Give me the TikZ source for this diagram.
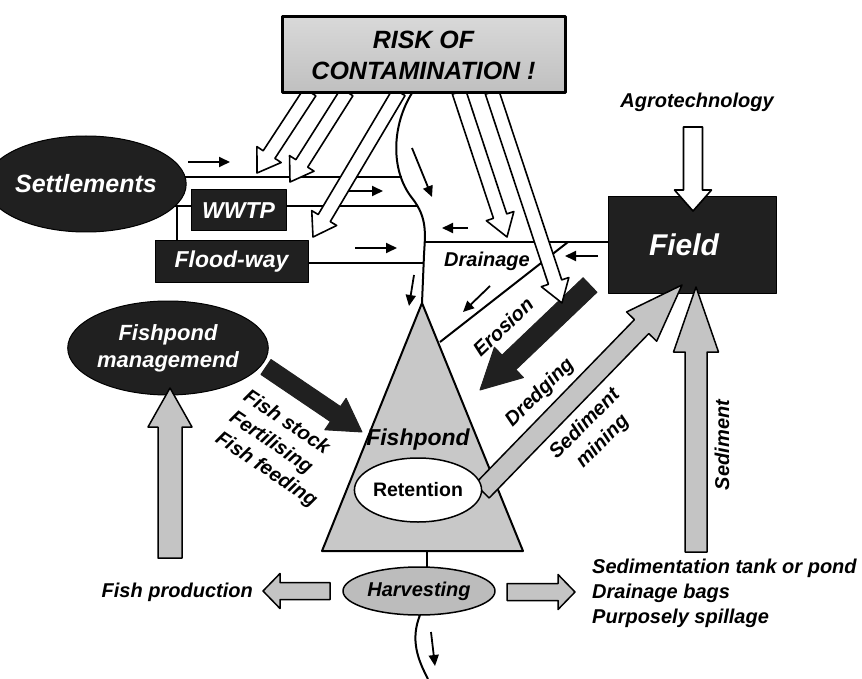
\documentclass[tikz,border=0pt]{standalone}
\usepackage{fontspec}
\setmainfont{Liberation Sans}
\usetikzlibrary{calc,arrows.meta,shapes.geometric}
\definecolor{dark}{HTML}{202020}
\definecolor{pond}{HTML}{C8C8C8}
\definecolor{harv}{HTML}{BCBCBC}
\definecolor{garrow}{HTML}{C4C4C4}
% block arrow: #1 style, #2 from, #3 to, #4 half shaft, #5 half head, #6 head length
\newcommand\blockarr[6]{%
  \path let \p1=($(#3)-(#2)$) in \pgfextra{%
    \pgfmathsetmacro\bkang{atan2(\y1,\x1)}%
    \pgfmathsetmacro\bklen{veclen(\x1,\y1)}%
    \xdef\bkang{\bkang}\xdef\bklen{\bklen}};
  \begin{scope}[shift={(#2)},rotate=\bkang]
    \draw[#1] (0,-#4) -- ({\bklen-#6},-#4) -- ({\bklen-#6},-#5) -- (\bklen,0)
      -- ({\bklen-#6},#5) -- ({\bklen-#6},#4) -- (0,#4) -- cycle;
  \end{scope}}
\begin{document}
\begin{tikzpicture}[x=1pt,y=-1pt,line join=round,
  chan/.style={line width=2pt},
  flow/.style={line width=1.8pt,-{Triangle[length=11pt,width=10pt]}},
  whitearr/.style={fill=white,draw=black,line width=1.6pt},
  blackarr/.style={fill=dark,draw=dark,line width=1pt},
  grayarr/.style={fill=garrow,draw=black,line width=1.5pt},
  darkbox/.style={rectangle,fill=dark,draw=black,line width=1pt,text=white,inner sep=0pt},
  darkell/.style={ellipse,fill=dark,draw=black,line width=1pt,text=white,inner sep=0pt,align=center},
  lbl/.style={font=\fontsize{20}{25}\selectfont\bfseries\itshape,inner sep=0pt},
]
\useasboundingbox (0,0) rectangle (862,679);

% ---- channels
\draw[chan] (160,177) -- (402,177);
\draw[chan] (157,206) -- (418,206);
\draw[chan] (177,206) -- (177,241);
\draw[chan] (308,263) -- (424,263);
\draw[chan] (425,242) -- (608,242);
\draw[chan] (568,242) -- (440,342);
% river
\draw[chan] (412,93) .. controls (392,125) and (390,170) .. (412,198)
  .. controls (428,218) and (425,235) .. (424,255) -- (422,303);

% ---- small flow arrows
\draw[flow] (188,162) -- (230,162);
\draw[flow] (347,191) -- (383,191);
\draw[flow] (355,248) -- (397,248);
\draw[flow] (468,228) -- (442,228);
\draw[flow] (598,256) -- (565,256);
\draw[flow] (490,286) -- (463,312);
\draw[flow] (412,148) -- (432,197);
\draw[flow] (414,275) -- (409,306);

% ---- nodes
\node[darkell,minimum width=160pt,minimum height=96pt,font=\fontsize{25}{30}\selectfont\bfseries\itshape] (settle) at (86,184) {Settlements};
\node[darkbox,minimum width=95pt,minimum height=41pt,font=\fontsize{23}{28}\selectfont\bfseries\itshape] (wwtp) at (238.5,210.5) {WWTP};
\node[darkbox,minimum width=153pt,minimum height=41pt,font=\fontsize{23}{28}\selectfont\bfseries\itshape] (flood) at (231.5,261.5) {Flood-way};
\node[darkbox,minimum width=168pt,minimum height=96pt,font=\fontsize{30}{36}\selectfont\bfseries\itshape] (field) at (692,245) {Field\hspace*{16pt}};
\node[darkell,minimum width=200pt,minimum height=94pt,font=\fontsize{22}{27}\selectfont\bfseries\itshape] (mgmt) at (168,348) {Fishpond\\managemend};

% fishpond triangle
\coordinate (apex) at (422,303);
\coordinate (bl) at (322,551);
\coordinate (br) at (523,551);
\draw[chan,fill=pond] (apex) -- (br) -- (bl) -- cycle;
\node[font=\fontsize{23}{28}\selectfont\bfseries\itshape,inner sep=0pt] (pond) at (418,440) {Fishpond};

% dredging arrow (starts at retention)
\coordinate (dr0) at (482,491);
\coordinate (dr1) at (682,285);
\blockarr{grayarr}{dr0}{dr1}{10}{21}{58}
\node[draw=black,line width=1.5pt,fill=white,ellipse,minimum width=110pt,minimum height=64pt,inner sep=0pt,font=\fontsize{19.5}{24}\selectfont\bfseries] (ret) at (418,490) {Retention};

% harvesting
\draw[chan] (427,551) -- (427,567);
\draw[chan] (420,615) .. controls (410,640) and (418,660) .. (428,679);
\draw[flow] (431,632) -- (435,666);
\node[draw=black,line width=1.5pt,fill=harv,ellipse,minimum width=152pt,minimum height=48pt,inner sep=0pt,font=\fontsize{20}{24}\selectfont\bfseries\itshape] (harv) at (419,591) {Harvesting};

% black arrows
\coordinate (mb0) at (266,367);
\coordinate (mb1) at (362,432);
\blockarr{blackarr}{mb0}{mb1}{9}{19}{32}
\coordinate (er0) at (590,285);
\coordinate (er1) at (480,390);
\blockarr{blackarr}{er0}{er1}{10}{21}{40}

% contamination arrows
\coordinate (cA0) at (310,92); \coordinate (cA1) at (257,173);
\coordinate (cB0) at (347,92); \coordinate (cB1) at (290,182);
\coordinate (cC0) at (399,92); \coordinate (cC1) at (313,237);
\coordinate (cD0) at (459,92); \coordinate (cD1) at (507,237);
\coordinate (cE0) at (492,92); \coordinate (cE1) at (562,303);
\blockarr{whitearr}{cA0}{cA1}{7}{14.5}{22}
\blockarr{whitearr}{cB0}{cB1}{7}{14.5}{22}
\blockarr{whitearr}{cC0}{cC1}{7}{14.5}{22}
\blockarr{whitearr}{cD0}{cD1}{7}{14.5}{22}
\blockarr{whitearr}{cE0}{cE1}{7}{14.5}{22}

% risk box
\node[rectangle,draw=black,line width=3pt,top color=gray!30,middle color=white,bottom color=gray!50,
  minimum width=283pt,minimum height=76pt,inner sep=0pt,align=center,
  font=\fontsize{25}{31}\selectfont\bfseries\itshape] (risk) at (423.5,55) {RISK OF\\CONTAMINATION !};

% agrotechnology
\node[lbl] (agro) at (697,102) {Agrotechnology};
\coordinate (ag0) at (693,127);
\coordinate (ag1) at (693,211);
\blockarr{whitearr}{ag0}{ag1}{9.5}{18.5}{21}

% gray arrows
\coordinate (sd0) at (696,552); \coordinate (sd1) at (696,287);
\blockarr{grayarr}{sd0}{sd1}{11}{22.5}{65}
\coordinate (mg0) at (170,558); \coordinate (mg1) at (170,388);
\blockarr{grayarr}{mg0}{mg1}{12}{22}{39}
\coordinate (fp0) at (330,591); \coordinate (fp1) at (263,591);
\blockarr{grayarr}{fp0}{fp1}{8.5}{17.5}{17}
\coordinate (st0) at (507,592); \coordinate (st1) at (575,592);
\blockarr{grayarr}{st0}{st1}{8.5}{17.5}{17}

% labels
\node[lbl] (drain) at (487,261) {Drainage};
\node[lbl,rotate=43.6] (eros) at (503,327) {Erosion};
\node[lbl,rotate=45] (dredg) at (540,393) {Dredging};
\node[lbl,rotate=45,align=center] (smin) at (594,433) {Sediment\\mining};
\node[lbl,rotate=90] (sedi) at (722,445) {Sediment};
\node[lbl,rotate=-34,anchor=west,align=left] (fstock) at (231,416) {Fish stock\\Fertilising\\Fish feeding};
\node[lbl,anchor=east] (fprod) at (253,592) {Fish production};
\node[lbl,anchor=west,align=left] (stank) at (592,593) {Sedimentation tank or pond\\Drainage bags\\Purposely spillage};
\end{tikzpicture}
\end{document}
